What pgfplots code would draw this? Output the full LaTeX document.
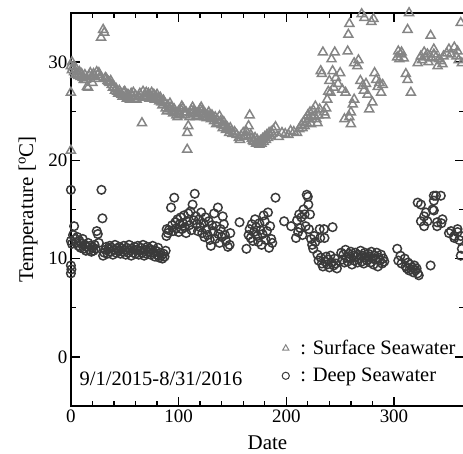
\documentclass[border=0pt]{standalone}
\usepackage{fontspec}
\setmainfont{Liberation Serif}
\usepackage{pgfplots}
\pgfplotsset{compat=1.18}
\definecolor{surfgray}{HTML}{858585}
\definecolor{deepgray}{HTML}{3A3A3A}

\begin{document}
\begin{tikzpicture}
\begin{axis}[
  name=ax,
  scale only axis, width=393.8pt, height=393.7pt,
  xmin=0, xmax=365, ymin=-5, ymax=35,
  xtick={0,100,200,300}, minor x tick num=4,
  ytick={0,10,20,30}, minor y tick num=1,
  tick align=inside, major tick length=9.5pt, minor tick length=5.5pt,
  every tick/.style={black, line width=1.3pt},
  axis line style={line width=1.5pt},
  /pgf/number format/assume math mode=true,
  tick label style={font=\fontsize{19}{19}\selectfont},
  label style={font=\fontsize{21}{21}\selectfont},
  xlabel={Date}, ylabel={Temperature [\textsuperscript{o}C]},
  xlabel style={yshift=-10pt, inner sep=0pt}, ylabel style={yshift=4pt},
  legend cell align=left,
  legend style={at={(axis cs:196,1.9)}, anchor=north west, draw=none, fill=none,
    font=\fontsize{20.5}{20.5}\selectfont, inner sep=0pt, row sep=8pt,
    /tikz/every odd column/.append style={column sep=9pt}},
  legend image code/.code={\draw[#1, mark size=3.6pt, line width=1pt] plot coordinates {(0.15cm,0cm)};},
]
\addplot[only marks, mark=triangle, mark size=5.2pt, color=surfgray, line width=1.5pt] coordinates {
(0,21.0) (0,26.9) (0,29.6) (1,30.0) (1,29.2) (2,29.5) (3,29.0) (4,28.7) (5,29.3) (6,28.8)
(7,28.6) (8,29.0) (9,28.5) (10,28.8) (11,28.4) (12,28.2) (13,28.7) (14,28.2) (15,27.5) (16,27.4)
(17,28.6) (18,28.9) (19,28.5) (20,27.9) (21,28.8) (22,28.6) (23,28.3) (24,29.0) (25,28.7) (26,28.9)
(27,28.5) (28,32.5) (30,33.3) (31,33.0) (32,28.4) (33,28.3) (34,28.1) (35,28.0) (36,27.9) (37,28.1)
(38,27.7) (39,27.4) (40,27.5) (41,27.1) (42,27.3) (43,27.0) (44,26.8) (45,27.1) (46,26.9) (47,26.7)
(48,26.5) (49,26.9) (50,27.0) (51,26.6) (52,26.3) (53,26.7) (54,26.4) (55,26.2) (56,26.8) (57,26.5)
(58,26.9) (59,26.3) (60,26.6) (61,26.2) (63,26.5) (64,26.8) (66,23.8) (67,27.0) (68,26.6) (69,26.4)
(70,26.9) (71,26.5) (72,26.8) (73,26.3) (74,26.6) (75,26.9) (76,26.4) (77,26.7) (78,26.2) (79,26.5)
(80,26.7) (81,26.3) (82,26.0) (83,26.4) (84,25.9) (85,25.6) (86,26.1) (87,25.8) (88,25.3) (89,25.0)
(90,25.6) (91,25.2) (92,25.8) (93,25.4) (94,25.0) (95,24.8) (96,25.2) (97,24.9) (98,24.6) (99,24.4)
(100,25.0) (101,24.7) (102,25.2) (103,25.5) (104,25.3) (105,24.9) (106,24.6) (107,24.9) (108,21.1) (108,22.8)
(109,23.5) (110,24.4) (111,24.8) (112,25.1) (113,25.4) (114,25.0) (115,24.7) (116,24.4) (117,24.8) (118,24.5)
(119,24.9) (120,25.2) (121,25.4) (122,25.1) (123,24.7) (124,24.4) (125,24.7) (126,24.3) (127,24.6) (128,24.9)
(129,24.5) (130,24.2) (131,24.6) (132,24.3) (133,24.0) (134,24.4) (135,23.7) (136,24.1) (137,23.8) (138,24.5)
(139,24.0) (140,23.6) (141,23.3) (142,23.9) (143,23.5) (144,23.1) (145,23.4) (146,23.2) (147,22.8) (148,23.3)
(149,23.0) (150,22.7) (152,22.9) (154,22.6) (156,22.3) (157,22.1) (158,22.5) (160,22.8) (161,22.4) (163,22.5)
(163,22.9) (165,23.5) (166,24.6) (167,22.6) (168,22.2) (169,22.0) (170,21.9) (171,22.3) (172,21.7) (173,22.1)
(174,21.8) (175,21.6) (176,22.0) (177,21.7) (178,22.2) (179,21.9) (180,22.4) (181,22.1) (182,22.6) (183,22.3)
(184,22.8) (185,22.5) (186,22.9) (187,22.7) (188,23.1) (190,23.4) (193,22.4) (196,22.8) (199,22.7) (202,22.6)
(204,23.0) (207,22.9) (210,22.8) (212,23.2) (214,23.6) (215,23.3) (216,23.9) (217,23.5) (218,24.2) (219,23.8)
(220,24.6) (221,24.2) (222,24.9) (223,23.7) (224,24.4) (225,25.1) (226,24.5) (227,25.5) (228,24.2) (229,23.8)
(230,24.6) (231,25.2) (232,29.1) (233,28.8) (234,31.0) (235,24.9) (236,24.6) (237,25.3) (238,26.2) (239,27.0)
(240,28.1) (241,26.9) (242,30.3) (243,29.1) (244,27.4) (245,31.0) (246,28.4) (248,27.8) (250,28.9) (252,27.2)
(254,24.2) (255,26.9) (257,31.1) (257.6,32.8) (258.6,33.9) (258.6,24.4) (260,24.9) (260,23.7) (261.7,25.7) (263,26.2)
(263,29.9) (266,29.6) (267,30.2) (268.8,28.1) (270,34.9) (271,27.6) (272,27.1) (272.5,34.5) (274,27.8) (275.5,26.7)
(277,25.2) (279,34.1) (280,25.9) (281,34.4) (282,28.9) (283.5,28.2) (285,27.5) (286.5,27.9) (288,26.9) (289.5,27.7)
(303,30.5) (304,31.1) (305,30.3) (306,30.8) (307,31.0) (309,30.4) (311,28.8) (312.6,28.2) (312.6,33.3) (314,35.0)
(315.7,26.9) (322,29.9) (325,30.6) (326,30.2) (328,31.0) (329,30.5) (331,30.8) (332,30.0) (334,35.1) (334,32.7)
(335,30.4) (337,31.3) (337,30.8) (339,30.5) (340.5,29.6) (342,30.3) (343.5,30.1) (345,29.8) (346,30.6) (349,30.9)
(351,31.3) (353,30.8) (356,31.5) (358,30.6) (359,31.1) (360,30.2) (362,34.0) (363,29.9)
};
\addlegendentry{: Surface Seawater}
\addplot[only marks, mark=o, mark size=4.3pt, color=deepgray, line width=1.5pt] coordinates {
(0,17.0) (0,11.8) (0,9.3) (0.5,8.9) (0,8.5) (1,11.5) (2,12.4) (3,13.3) (4,12.0) (5,11.6)
(6,12.2) (7,11.3) (8,11.8) (9,11.1) (10,11.5) (11,12.0) (12,11.0) (13,11.4) (14,10.8) (15,11.2)
(16,11.6) (17,10.9) (18,11.3) (19,10.7) (20,11.1) (21,10.8) (22,11.4) (23,11.0) (24,12.8) (25,12.5)
(26,11.6) (28.4,17.0) (29.3,14.1) (29.9,10.3) (31,10.6) (32,10.9) (33,11.2) (34,10.5) (35,11.0) (36,11.3)
(37,10.7) (38,11.1) (39,10.4) (40,10.9) (41,11.4) (42,10.6) (43,11.0) (44,10.8) (45,11.2) (46,10.5)
(47,11.0) (48,10.7) (49,11.3) (50,10.9) (51,10.4) (52,11.1) (53,10.6) (54,11.4) (55,10.8) (56,10.3)
(57,11.0) (58,10.6) (59,11.2) (60,10.5) (61,10.9) (62,11.3) (63,10.4) (64,10.8) (65,11.1) (66,10.6)
(67,11.4) (68,10.3) (69,10.9) (70,10.5) (71,11.2) (72,10.7) (73,11.0) (74,10.4) (75,10.9) (76,11.3)
(77,10.6) (78,10.2) (79,10.8) (80,10.4) (81,11.1) (82,10.1) (83,10.6) (84,10.3) (85,10.0) (86,10.5)
(87,10.2) (88,10.8) (88.7,12.3) (89,13.0) (90,12.6) (91,12.9) (93,15.2) (94,13.4) (95,12.8) (96,16.2)
(97,13.7) (98,13.1) (99,14.0) (100,12.7) (101,13.5) (102,14.2) (103,13.0) (104,13.6) (105,14.4) (106,13.2)
(107,12.6) (108,13.8) (109,14.6) (110,13.4) (111,14.8) (112,12.9) (113,15.5) (114,13.9) (115,16.6) (116,14.3)
(117,13.5) (118,12.8) (119,14.0) (120,13.2) (121,14.7) (122,12.6) (123,13.6) (124,12.2) (125,14.2) (126,13.0)
(127,12.4) (128,13.8) (129,11.9) (130,11.3) (131,13.4) (132,12.8) (133,14.6) (134,12.0) (135,13.3) (136.5,15.2)
(137,12.5) (138,11.6) (139,13.0) (140,12.2) (141,14.3) (142,13.5) (143,12.4) (144,11.8) (145.8,11.2) (147.4,11.4)
(148,12.6) (156.6,13.7) (163,11.0) (165,12.4) (166,13.0) (167,12.1) (168,13.5) (169,11.8) (170,12.7) (171,14.0)
(172,13.2) (173,12.3) (174,11.7) (175,13.6) (176,12.9) (177,11.4) (178,12.5) (179,14.4) (180,13.8) (181,11.9)
(182,12.8) (183,14.7) (184,11.1) (185,13.3) (186,12.0) (187,11.6) (190,16.2) (198,13.8) (204.5,13.3) (209,12.1)
(210,13.9) (211,12.7) (212,14.5) (213,13.1) (214,14.2) (215,12.4) (216,15.0) (217,14.5) (218,13.3) (219,16.5)
(220,16.3) (220.5,15.5) (221,13.0) (222,14.5) (223,12.0) (224,11.4) (225,11.0) (226,12.3) (227,11.7) (229,10.4)
(230,9.8) (231,13.0) (231.5,12.1) (232,10.1) (233,9.5) (234,9.2) (235,13.0) (235.5,12.1) (236,9.7) (237,10.2)
(238,9.4) (239,9.9) (240,9.1) (241,10.3) (242,9.6) (243,13.2) (244,9.3) (245,10.0) (246,9.5) (247,9.0)
(251,10.6) (252,9.9) (253,10.4) (254,9.6) (255,10.9) (256,10.1) (257,9.7) (258,10.5) (259,10.0) (260,10.7)
(261,9.4) (262,10.3) (263,9.8) (264,10.6) (265,10.2) (266,9.6) (267,10.4) (268,10.0) (269,10.8) (270,9.7)
(271,10.3) (272,9.5) (273,10.6) (274,10.1) (275,9.8) (276,10.5) (277,10.2) (278,9.6) (279,10.7) (280,10.0)
(281,9.4) (282,10.3) (283,9.9) (284,10.6) (285,9.2) (286,10.1) (287,9.8) (288,10.4) (289,9.5) (290,10.0)
(291,9.7) (303,11.0) (304,9.8) (306,10.3) (307,9.5) (310,10.0) (311,9.2) (312,9.0) (313,9.6) (314,8.8)
(315,9.4) (316,8.9) (317,9.1) (318,8.6) (319,9.3) (320,8.8) (321,9.0) (322,8.5) (323,8.3) (325,15.5)
(322,15.7) (325,13.8) (328,14.3) (328,13.3) (329.6,14.7) (331,13.8) (334,9.3) (335.8,15.0) (337,15.9) (337,16.4)
(339,16.4) (337,14.9) (340,13.7) (340,13.3) (343.5,16.4) (344,13.6) (345,14.0) (351,12.6) (353,12.8) (356,12.3)
(356,12.1) (359,13.0) (359,12.7) (360.5,11.9) (362,12.3) (363,11.0) (362,10.3)
};
\addlegendentry{: Deep Seawater}
\node[anchor=west, font=\fontsize{20.5}{20.5}\selectfont, inner sep=0pt] at (axis cs:8,-2.2) {9/1/2015-8/31/2016};
\end{axis}
\pgfresetboundingbox
\path[use as bounding box] ([xshift=-71pt,yshift=-47.3pt]ax.south west) rectangle ([xshift=-1pt,yshift=13pt]ax.north east);
\end{tikzpicture}
\end{document}
